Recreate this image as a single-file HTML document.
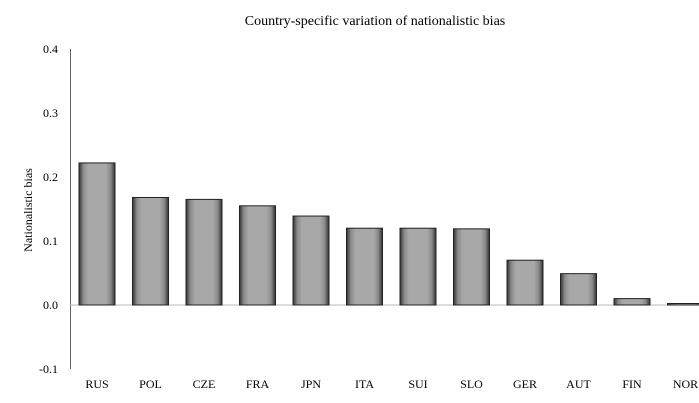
<!DOCTYPE html>
<html><head><meta charset="utf-8"><style>
body{margin:0;background:#fff;}
svg{display:block;font-family:"Liberation Serif",serif;}
</style></head><body>
<svg id="chart" width="699" height="403">
<defs>
<linearGradient id="gh" x1="0" x2="1" y1="0" y2="0">
<stop offset="0" stop-color="#333"/><stop offset="0.12" stop-color="#8a8a8a"/><stop offset="0.25" stop-color="#a8a8a8"/><stop offset="0.75" stop-color="#a8a8a8"/><stop offset="0.88" stop-color="#8a8a8a"/><stop offset="1" stop-color="#333"/>
</linearGradient>
</defs>
<text x="375" y="25" text-anchor="middle" font-size="14">Country-specific variation of nationalistic bias</text>
<text transform="translate(32,210) rotate(-90)" text-anchor="middle" font-size="12">Nationalistic bias</text>
<g id="axes"></g><g id="bars"></g>
</svg>
<script>
const categories=["RUS","POL","CZE","FRA","JPN","ITA","SUI","SLO","GER","AUT","FIN","NOR"];
const values=[0.222,0.168,0.165,0.155,0.139,0.120,0.120,0.119,0.070,0.049,0.010,0.002];
const ticks=[0.4,0.3,0.2,0.1,0.0,-0.1];
const tickLabels=["0.4","0.3","0.2","0.1","0.0","-0.1"];
const NS="http://www.w3.org/2000/svg";
function y(v){return 305-v*640;}
function x(i){return 97+i*53.5;}
const axes=document.getElementById('axes'),bars=document.getElementById('bars');
function mk(t,a,p){const e=document.createElementNS(NS,t);for(const k in a)e.setAttribute(k,a[k]);p.appendChild(e);return e;}
const ax=mk('line',{x1:70.5,x2:70.5,y1:y(0.4),y2:y(-0.1),stroke:'#666','stroke-width':1},axes);


const zl=mk('line',{x1:70,x2:699,y1:y(0),y2:y(0),stroke:'#bbb','stroke-width':1},axes);


ticks.forEach((t,i)=>{const e=mk('text',{x:58,y:y(t)+4,'text-anchor':'end','font-size':12},axes);e.textContent=tickLabels[i];

});
categories.forEach((c,i)=>{
const v=values[i];const top=y(v);const h=Math.max(y(0)-top,1.5);
const r=mk('rect',{x:x(i)-18,y:y(0)-h,width:36,height:h,fill:'url(#gh)',stroke:'#222','stroke-width':1},bars);


const t=mk('text',{x:x(i),y:388,'text-anchor':'middle','font-size':12},bars);t.textContent=c;


});
</script>
</body></html>
